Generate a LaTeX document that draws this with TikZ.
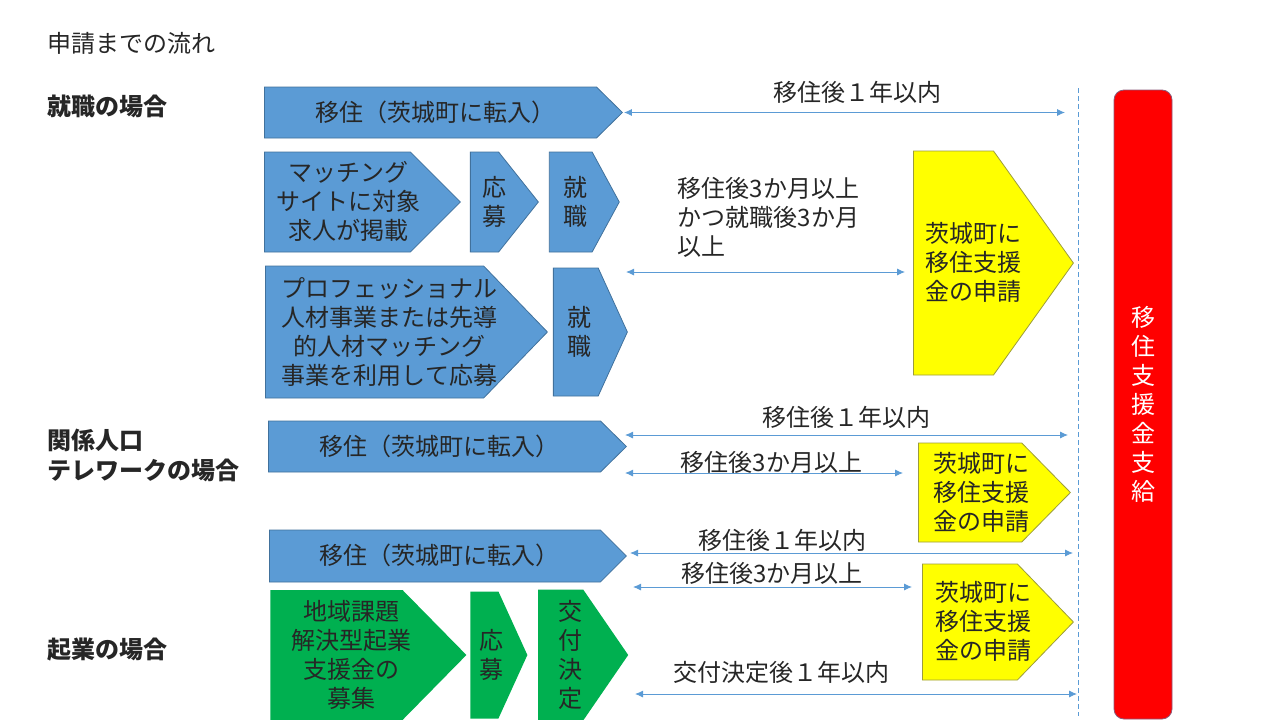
\documentclass[tikz,border=0pt]{standalone}
\usepackage{fontspec}
\setmainfont{Noto Sans CJK JP}
\usepackage{tikz}
\usetikzlibrary{shapes, arrows.meta, positioning}
\definecolor{stepBlue}{HTML}{5B9BD5}
\definecolor{stepBlueLine}{HTML}{41719C}
\definecolor{stepGreen}{HTML}{00B050}
\definecolor{stepYellow}{HTML}{FFFF00}
\definecolor{stepYellowLine}{HTML}{9C9C3C}
\definecolor{payRed}{HTML}{FF0000}
\definecolor{payRedLine}{HTML}{8A5A7A}
\definecolor{textDark}{HTML}{262626}
% text block of a step, moved right by #1 inside the shape
\newcommand{\stepText}[2]{\makebox[0pt]{\hspace*{#1}\hspace*{#1}\raisebox{-3pt}[\height][\depth]{\begin{tabular}{@{}c@{}}#2\end{tabular}}}}
\tikzset{%
>={Latex[width=7pt,length=8pt]},
% Specifications for style of nodes:
base/.style = {signal, signal to=east, signal pointer angle=90, anchor=west, inner sep=0pt, line width=0.8pt},
stepBlueBox/.style = {base, fill=stepBlue, draw=stepBlueLine},
stepGreenBox/.style = {base, fill=stepGreen},
applyBox/.style = {base, fill=stepYellow, draw=stepYellowLine},
payBar/.style = {rectangle, rounded corners=10pt, fill=payRed, draw=payRedLine, line width=0.8pt, text=white},
caseTitle/.style = {anchor=west, align=left, font=\fontsize{24pt}{30pt}\selectfont\bfseries},
period/.style = {<->, draw=stepBlue, line width=0.9pt},
}

\begin{document}
\begin{tikzpicture}[
        x=1pt, y=-1pt,
        node distance=10pt,
        every node/.style={font=\fontsize{24pt}{29pt}\selectfont, text=textDark},
        align=center
    ]
    \useasboundingbox (0,0) rectangle (1280,720);
    % Specification of nodes (position, etc.)
    \node (title) [anchor=west] at (44,43) {申請までの流れ};
    \node (caseJob) [caseTitle] at (44,106) {就職の場合};
    \node (caseTele) [caseTitle] at (44,455) {関係人口\\テレワークの場合};
    \node (caseStartup) [caseTitle] at (44,650) {起業の場合};

    \node (moveJob) [stepBlueBox, minimum width=358, minimum height=51, signal pointer angle=89] at (264,112.5) {\stepText{5pt}{移住（茨城町に転入）}};
    \node (matching) [stepBlueBox, minimum width=196, minimum height=100] at (264,202) {\stepText{11pt}{マッチング\\サイトに対象\\求人が掲載}};
    \node (applyJob) [stepBlueBox, minimum width=68, minimum height=100, signal pointer angle=103, right=9pt of matching] {\stepText{10pt}{応\\募}};
    \node (jobA) [stepBlueBox, minimum width=70, minimum height=100, signal pointer angle=123, right=of applyJob] {\stepText{4.5pt}{就\\職}};
    \node (pro) [stepBlueBox, minimum width=282, minimum height=132, signal pointer angle=92] at (265,332) {\stepText{15pt}{プロフェッショナル\\人材事業または先導\\的人材マッチング\\事業を利用して応募}};
    \node (jobB) [stepBlueBox, minimum width=74, minimum height=128, signal pointer angle=131, right=5pt of pro] {\stepText{3.5pt}{就\\職}};
    \node (moveTele) [stepBlueBox, minimum width=358, minimum height=51, signal pointer angle=89] at (268,446.5) {\stepText{5pt}{移住（茨城町に転入）}};
    \node (moveStartup) [stepBlueBox, minimum width=357, minimum height=52] at (269,556) {\stepText{5pt}{移住（茨城町に転入）}};
    \node (recruit) [stepGreenBox, minimum width=196, minimum height=130, signal pointer angle=91] at (270,655) {\stepText{15pt}{地域課題\\解決型起業\\支援金の\\募集}};
    \node (applyStartup) [stepGreenBox, minimum width=57, minimum height=127, signal pointer angle=131, right=3pt of recruit] {\stepText{7pt}{応\\募}};
    \node (grant) [stepGreenBox, minimum width=90, minimum height=131, signal pointer angle=111, right=of applyStartup] {\stepText{9.5pt}{交\\付\\決\\定}};

    \node (applyA) [applyBox, minimum width=160, minimum height=224, signal pointer angle=109] at (913,263) {\stepText{20pt}{茨城町に\\移住支援\\金の申請}};
    \node (applyB) [applyBox, minimum width=152, minimum height=99, signal pointer angle=91] at (918,492.5) {\stepText{11.5pt}{茨城町に\\移住支援\\金の申請}};
    \node (applyC) [applyBox, minimum width=151, minimum height=116, signal pointer angle=92] at (922,622) {\stepText{14pt}{茨城町に\\移住支援\\金の申請}};

    \node (payment) [payBar, minimum width=58, minimum height=629, font=\fontsize{24pt}{29pt}\selectfont] at (1143,404.5) {移\\住\\支\\援\\金\\支\\給};

    \coordinate (payTop) at (1078,88);
    \coordinate (payBottom) at (1078,716);
    \coordinate (jobStart) at (626,272);
    \coordinate (teleStart) at (625,435);
    \coordinate (teleThreeStart) at (625,473);
    \coordinate (startupStart) at (630,553);
    \coordinate (startupThreeStart) at (633,587);
    \coordinate (grantStart) at (635,694);

    \draw [stepBlue, line width=0.9pt, dash pattern=on 5pt off 3pt] (payTop) -- (payBottom);
    \draw [period, shorten <=1pt, shorten >=13pt] (moveJob.east) -- (moveJob.east -| payTop) node[pos=0.515, yshift=20pt]{移住後１年以内};
    \draw [period, shorten >=8pt] (jobStart) -- (jobStart -| applyA.west) node[pos=0, anchor=south west, align=left, xshift=48pt, yshift=11pt]{移住後3か月以上\\かつ就職後3か月\\以上};
    \draw [period, shorten >=10pt] (teleStart) -- (teleStart -| payTop) node[pos=0.49, yshift=18pt]{移住後１年以内};
    \draw [period, shorten >=15pt] (teleThreeStart) -- (teleThreeStart -| applyB.west) node[pos=0.5, yshift=11pt]{移住後3か月以上};
    \draw [period, shorten >=5pt] (startupStart) -- (startupStart -| payTop) node[pos=0.34, yshift=13pt]{移住後１年以内};
    \draw [period, shorten >=10pt] (startupThreeStart) -- (startupThreeStart -| applyC.west) node[pos=0.48, yshift=14pt]{移住後3か月以上};
    \draw [period, shorten >=1pt] (grantStart) -- (grantStart -| payTop) node[pos=0.33, yshift=22pt]{交付決定後１年以内};
\end{tikzpicture}
\end{document}
